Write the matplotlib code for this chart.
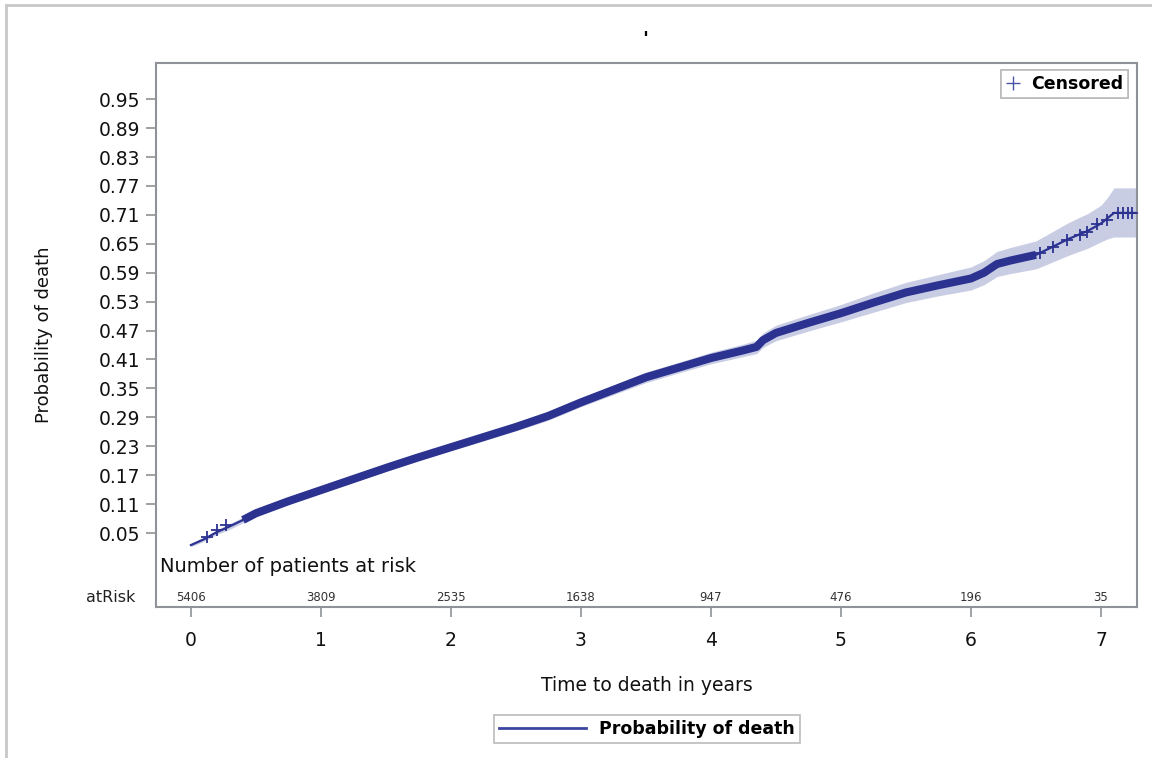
import numpy as np
import matplotlib
matplotlib.use('Agg')
from matplotlib import pyplot as plt
from matplotlib.lines import Line2D

# Kaplan-Meier style cumulative probability of death
time = [0, 0.05, 0.1, 0.2, 0.3, 0.4, 0.5, 0.75, 1.0, 1.25, 1.5, 1.75, 2.0, 2.25, 2.5,
        2.75, 3.0, 3.25, 3.5, 3.75, 4.0, 4.25, 4.35, 4.4, 4.5, 4.75, 5.0, 5.25, 5.5,
        5.75, 6.0, 6.1, 6.2, 6.3, 6.5, 6.6, 6.75, 6.9, 7.0, 7.05, 7.1, 7.28]
prob = [0.025, 0.031, 0.037, 0.052, 0.064, 0.077, 0.091, 0.116, 0.139, 0.162, 0.185,
        0.207, 0.228, 0.249, 0.270, 0.293, 0.321, 0.347, 0.373, 0.393, 0.413, 0.429,
        0.436, 0.450, 0.465, 0.486, 0.506, 0.528, 0.549, 0.564, 0.578, 0.590, 0.608,
        0.615, 0.627, 0.640, 0.660, 0.677, 0.692, 0.703, 0.714, 0.714]
lower = [0.022, 0.027, 0.033, 0.047, 0.058, 0.071, 0.085, 0.110, 0.133, 0.156, 0.178,
         0.200, 0.221, 0.241, 0.262, 0.284, 0.312, 0.337, 0.362, 0.382, 0.401, 0.416,
         0.422, 0.435, 0.449, 0.469, 0.488, 0.508, 0.528, 0.542, 0.554, 0.565, 0.582,
         0.588, 0.598, 0.609, 0.626, 0.641, 0.654, 0.660, 0.664, 0.664]
upper = [0.028, 0.035, 0.041, 0.057, 0.070, 0.083, 0.097, 0.122, 0.145, 0.168, 0.192,
         0.214, 0.235, 0.257, 0.278, 0.302, 0.330, 0.357, 0.384, 0.404, 0.425, 0.442,
         0.450, 0.465, 0.481, 0.503, 0.524, 0.548, 0.570, 0.586, 0.602, 0.615, 0.634,
         0.642, 0.656, 0.671, 0.694, 0.713, 0.730, 0.746, 0.766, 0.766]

# censored marks that can be told apart (start and tail of the curve)
cens_t = [0.12, 0.2, 0.27, 6.53, 6.63, 6.74, 6.84, 6.89, 6.97, 7.05, 7.13, 7.17, 7.21, 7.24]
cens_p = [0.042, 0.056, 0.066, 0.630, 0.643, 0.657, 0.668, 0.674, 0.690, 0.700, 0.714,
          0.714, 0.714, 0.714]
# stretch where censored marks overlap into a solid band
dense_from, dense_to = 0.33, 6.5

risk_t = [0, 1, 2, 3, 4, 5, 6, 7]
at_risk = [5406, 3809, 2535, 1638, 947, 476, 196, 35]

yticks = [0.05, 0.11, 0.17, 0.23, 0.29, 0.35, 0.41, 0.47, 0.53, 0.59, 0.65, 0.71,
          0.77, 0.83, 0.89, 0.95]

NAVY = '#2b3290'
BAND = '#c9cde4'
GRAY = '#8f9296'

plt.rcParams['font.family'] = ['DejaVu Sans']
fig = plt.figure(figsize=(11.52, 7.58), dpi=100)
ax = fig.add_axes([156/1152, 1-607/758, (1137-156)/1152, (607-63)/758])

t = np.array(time)
p = np.array(prob)
ax.fill_between(t, lower, upper, color=BAND, lw=0, zorder=1)
ax.plot(t, p, color=NAVY, lw=1.6, zorder=2)
m = (t >= dense_from) & (t <= dense_to)
ax.plot(t[m], p[m], color=NAVY, lw=5.8, solid_capstyle='butt', zorder=3)
ax.plot(cens_t, cens_p, ls='none', marker='+', ms=9, mew=1.3, color=NAVY, zorder=4)

ax.set_xlim(-0.269, 7.277)
ax.set_ylim(-0.1035, 1.025)
ax.set_xticks(risk_t)
ax.set_yticks(yticks)
ax.set_yticklabels(['%.2f' % v for v in yticks])
ax.tick_params(axis='both', direction='out', length=7, width=1.2, color=GRAY,
               labelsize=13.5, labelcolor='#111111', pad=4)
ax.tick_params(axis='x', pad=10)
for s in ax.spines.values():
    s.set_color(GRAY)
    s.set_linewidth(1.5)

ax.set_xlabel('Time to death in years', fontsize=13.5, labelpad=19, color='#111111')
ax.set_ylabel('Probability of death', fontsize=13, labelpad=33, color='#111111')

# at-risk table inside the plot area
ax.text(-0.24, -0.0205, 'Number of patients at risk', fontsize=14, va='center',
        ha='left', color='#111111')
for rt, n in zip(risk_t, at_risk):
    ax.text(rt, -0.0835, str(n), fontsize=8.5, ha='center', va='center', color='#333333')
ax.text(-0.43, -0.0835, 'atRisk', fontsize=11.5, ha='right', va='center',
        color='#222222', weight='medium', clip_on=False)

# censored legend (top right)
leg1 = ax.legend([Line2D([], [], ls='none', marker='+', ms=10, mew=1.0, color='#4a55a5')],
                 ['Censored'], loc='upper right', bbox_to_anchor=(1128/1152, 1-70/758),
                 bbox_transform=fig.transFigure, fancybox=False, edgecolor='#bbbbbb',
                 prop={'size': 12.5, 'weight': 'semibold'}, handlelength=0.8,
                 handletextpad=0.6, borderpad=0.3, borderaxespad=0, framealpha=1)
leg1.get_frame().set_linewidth(1.2)
ax.add_artist(leg1)

# bottom legend
leg2 = fig.legend([Line2D([], [], color='#3b45a0', lw=2)], ['Probability of death'],
                  loc='center', bbox_to_anchor=(647/1152, 1-729/758), fancybox=False,
                  edgecolor='#bbbbbb', prop={'size': 12.5, 'weight': 'semibold'},
                  handlelength=5.0, handletextpad=0.8, borderpad=0.3, framealpha=1)
leg2.get_frame().set_linewidth(1.2)

# title is a lone apostrophe
fig.text(645/1152, 1-40/758, "'", fontsize=14, weight='bold', ha='center', va='center')

# outer graph frame (left and top edges)
fig.add_artist(Line2D([6/1152, 6/1152], [0, 1-5/758], color='#c8c8c8', lw=2,
                      transform=fig.transFigure))
fig.add_artist(Line2D([6/1152, 1], [1-5/758, 1-5/758], color='#c8c8c8', lw=2,
                      transform=fig.transFigure))

fig.savefig('out.png', dpi=100)
